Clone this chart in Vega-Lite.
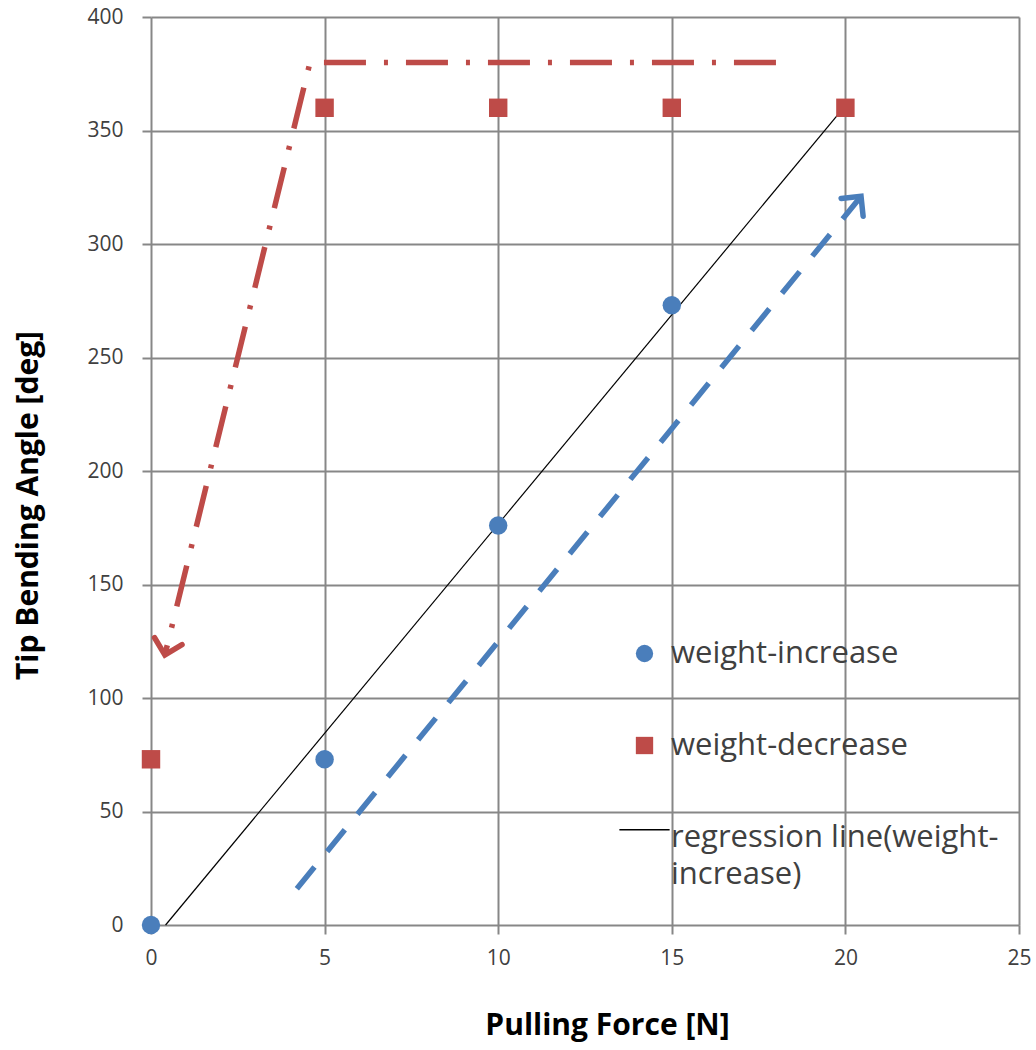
{
  "$schema": "https://vega.github.io/schema/vega-lite/v6.json",
  "width": 868,
  "height": 908,
  "autosize": {"type": "none"},
  "padding": {"left": 151, "top": 17, "right": 17, "bottom": 125},
  "background": "white",
  "config": {
    "view": {"stroke": null},
    "font": "Open Sans",
    "axis": {
      "grid": true,
      "gridColor": "#878787",
      "gridWidth": 2,
      "domain": false,
      "tickColor": "#878787",
      "tickWidth": 2,
      "tickSize": 9,
      "labelFlush": false,
      "labelFontSize": 21,
      "labelColor": "#404040",
      "labelFont": "Open Sans",
      "titleFont": "Open Sans",
      "titleFontWeight": "bold",
      "titleFontSize": 30,
      "titleColor": "#000000"
    },
    "legend": {
      "title": null,
      "orient": "none",
      "legendX": 478,
      "legendY": 621,
      "labelFontSize": 31,
      "labelColor": "#404040",
      "labelFont": "Open Sans",
      "labelLimit": 600,
      "symbolSize": 300,
      "rowPadding": 60,
      "labelOffset": 11
    }
  },
  "datasets": {
    "points": [
      {"force": 0, "angle": 0, "series": "weight-increase"},
      {"force": 5, "angle": 73, "series": "weight-increase"},
      {"force": 10, "angle": 176, "series": "weight-increase"},
      {"force": 15, "angle": 273, "series": "weight-increase"},
      {"force": 0, "angle": 73, "series": "weight-decrease"},
      {"force": 5, "angle": 360, "series": "weight-decrease"},
      {"force": 10, "angle": 360, "series": "weight-decrease"},
      {"force": 15, "angle": 360, "series": "weight-decrease"},
      {"force": 20, "angle": 360, "series": "weight-decrease"}
    ],
    "regression": [
      {"force": 0.42, "angle": 0},
      {"force": 20, "angle": 361}
    ],
    "redArrow": [
      {"force": 18, "angle": 380, "order": 1},
      {"force": 4.58, "angle": 380, "order": 2},
      {"force": 0.4, "angle": 119, "order": 3}
    ],
    "blueArrow": [
      {"force": 4.2, "angle": 16, "order": 1},
      {"force": 20.45, "angle": 321, "order": 2}
    ],
    "heads": [
      {"force": 0.4, "angle": 119, "dir": 194, "arrow": "red"},
      {"force": 20.45, "angle": 321, "dir": 39, "arrow": "blue"}
    ]
  },
  "layer": [
    {
      "data": {"name": "regression"},
      "mark": {"type": "line", "color": "#000000", "strokeWidth": 1.2},
      "encoding": {
        "x": {
          "field": "force", "type": "quantitative",
          "scale": {"domain": [0, 25], "nice": false},
          "axis": {"values": [0, 5, 10, 15, 20, 25], "title": "Pulling Force [N]", "titleX": 456, "titleY": 100, "titleBaseline": "middle", "labelPadding": 13}
        },
        "y": {
          "field": "angle", "type": "quantitative",
          "scale": {"domain": [0, 400], "nice": false},
          "axis": {"values": [0, 50, 100, 150, 200, 250, 300, 350, 400], "title": "Tip Bending Angle [deg]", "titleX": -123, "titleY": 488, "titleBaseline": "middle", "labelPadding": 19}
        }
      }
    },
    {
      "data": {"name": "redArrow"},
      "mark": {"type": "line", "color": "#be4b48", "strokeWidth": 5.5, "strokeDash": [42, 18, 4, 18], "strokeCap": "butt"},
      "encoding": {
        "x": {"field": "force", "type": "quantitative"},
        "y": {"field": "angle", "type": "quantitative"},
        "order": {"field": "order"}
      }
    },
    {
      "data": {"name": "blueArrow"},
      "mark": {"type": "line", "color": "#4a7ebb", "strokeWidth": 5.5, "strokeDash": [28, 20], "strokeCap": "butt"},
      "encoding": {
        "x": {"field": "force", "type": "quantitative"},
        "y": {"field": "angle", "type": "quantitative"},
        "order": {"field": "order"}
      }
    },
    {
      "data": {"name": "heads"},
      "mark": {"type": "point", "shape": "M -1 1 L 0 0 L 1 1", "filled": false, "opacity": 1, "strokeWidth": 5.5, "size": 800, "strokeCap": "round", "strokeJoin": "miter"},
      "encoding": {
        "x": {"field": "force", "type": "quantitative"},
        "y": {"field": "angle", "type": "quantitative"},
        "angle": {"field": "dir", "type": "quantitative", "scale": null},
        "stroke": {"field": "arrow", "type": "nominal", "scale": {"domain": ["red", "blue"], "range": ["#be4b48", "#4a7ebb"]}, "legend": null}
      }
    },
    {
      "data": {"name": "points"},
      "mark": {"type": "point", "filled": true, "opacity": 1},
      "encoding": {
        "x": {"field": "force", "type": "quantitative"},
        "y": {"field": "angle", "type": "quantitative"},
        "color": {
          "field": "series", "type": "nominal",
          "scale": {"domain": ["weight-increase", "weight-decrease", "regression line(weight-increase)"], "range": ["#4a7ebb", "#be4b48", "#000000"]},
          "legend": {
            "labelExpr": "datum.label == 'regression line(weight-increase)' ? ['regression line(weight-', 'increase)'] : datum.label",
            "encoding": {
              "symbols": {"stroke": {"condition": {"test": "datum.value == 'regression line(weight-increase)'", "value": "#000000"}, "value": "transparent"}, "strokeWidth": {"value": 1.5}},
              "labels": {"lineHeight": {"value": 37}}
            }
          }
        },
        "shape": {
          "field": "series", "type": "nominal",
          "scale": {"domain": ["weight-increase", "weight-decrease", "regression line(weight-increase)"], "range": ["circle", "square", "M -2.9 -0.9 L 2.9 -0.9"]},
          "legend": {
            "labelExpr": "datum.label == 'regression line(weight-increase)' ? ['regression line(weight-', 'increase)'] : datum.label",
            "encoding": {
              "symbols": {"stroke": {"condition": {"test": "datum.value == 'regression line(weight-increase)'", "value": "#000000"}, "value": "transparent"}, "strokeWidth": {"value": 1.5}},
              "labels": {"lineHeight": {"value": 37}}
            }
          }
        },
        "size": {"value": 340}
      }
    }
  ]
}
